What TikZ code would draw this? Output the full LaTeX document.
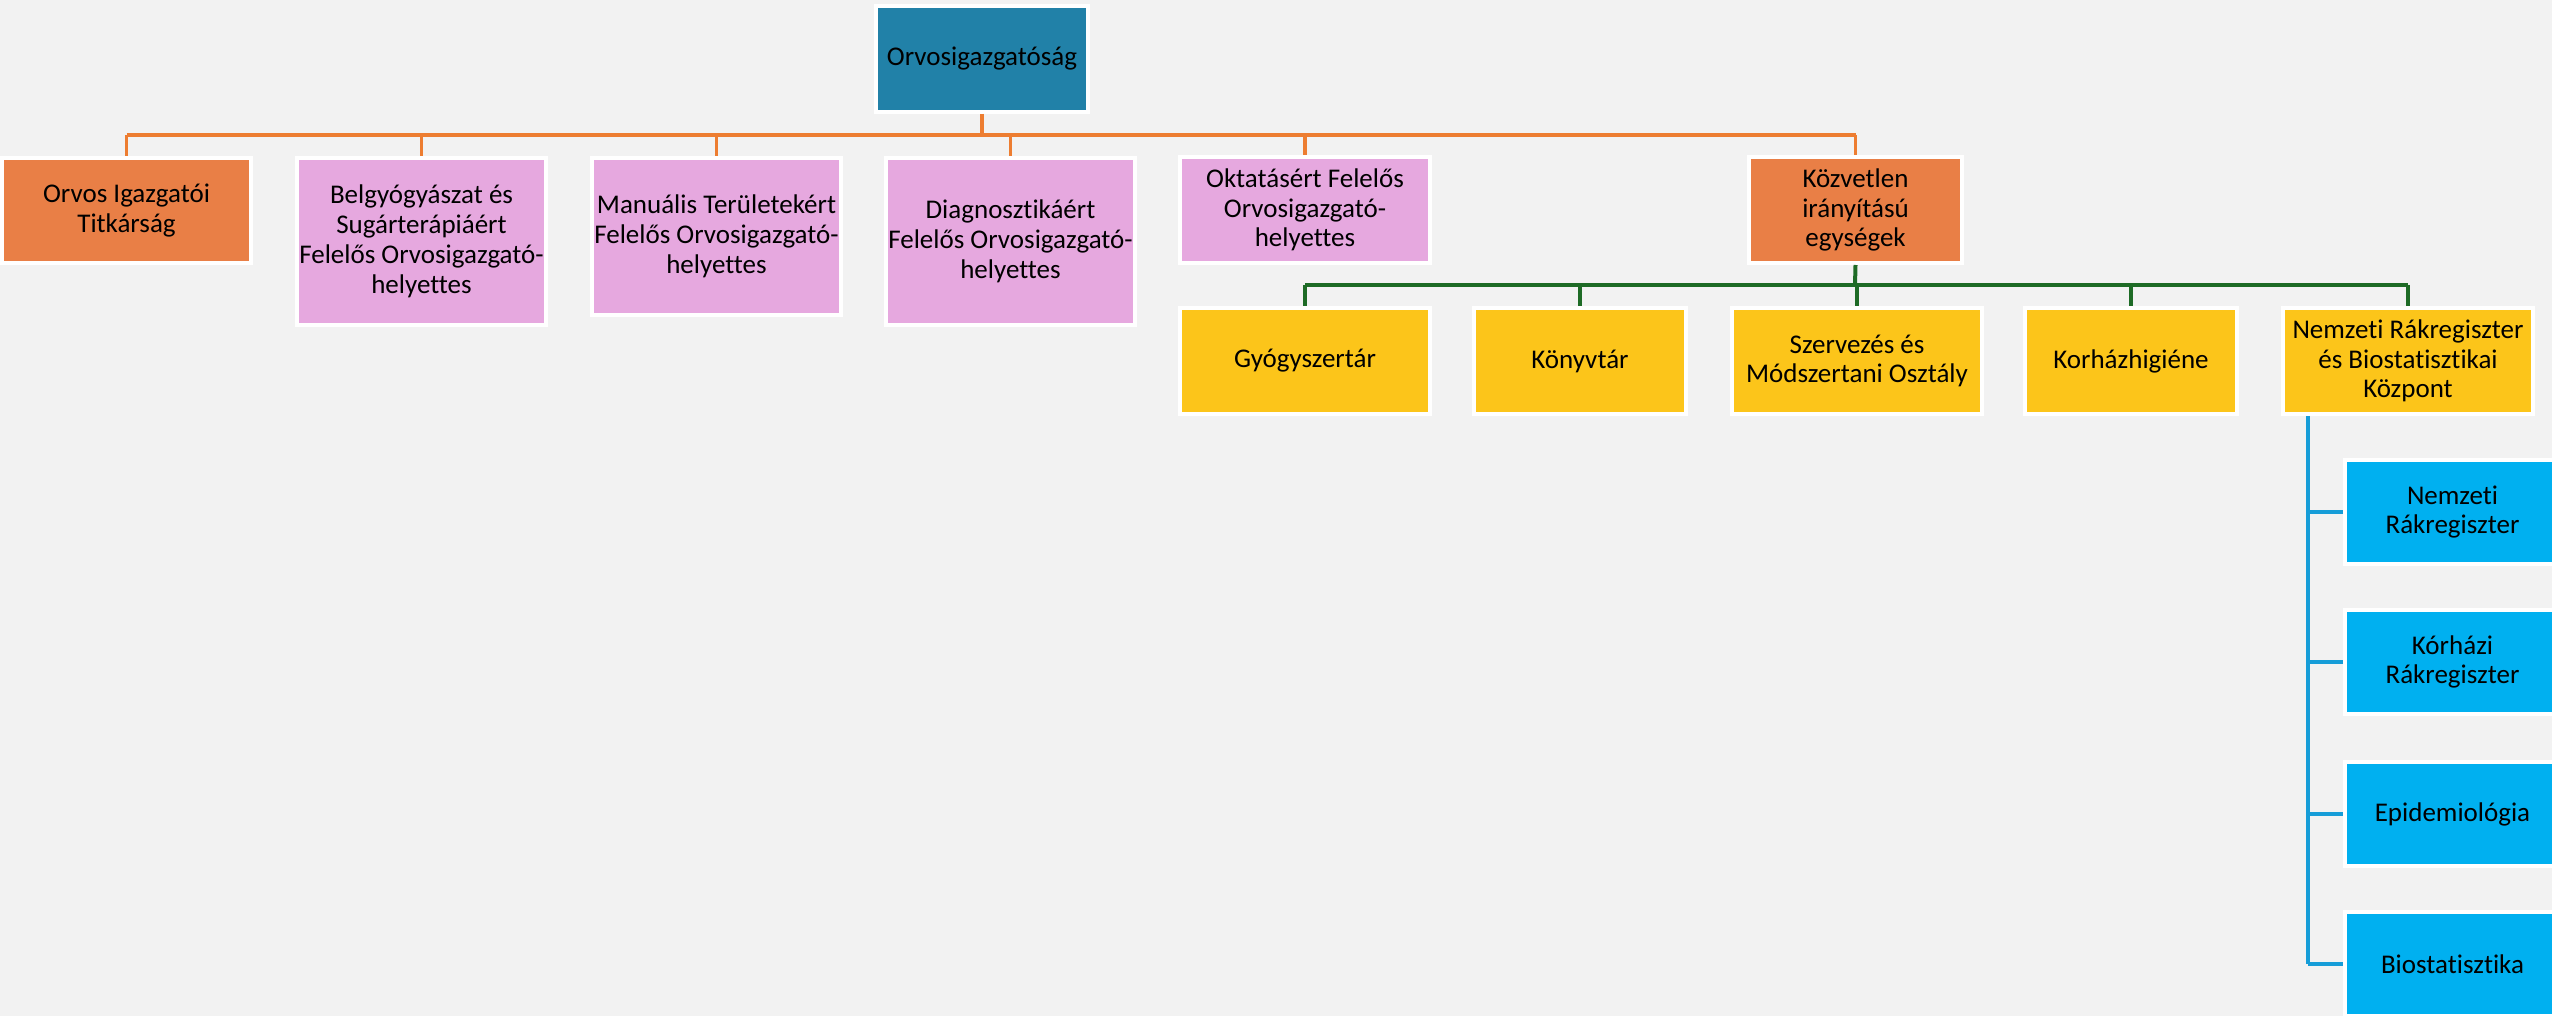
\documentclass[tikz,border=0pt]{standalone}
\usepackage{fontspec}
\setmainfont{Carlito}[Ligatures=CommonOff]
\definecolor{bg}{HTML}{F2F2F2}
\definecolor{topc}{HTML}{2181A8}
\definecolor{orc}{HTML}{E97F46}
\definecolor{pkc}{HTML}{E6A8DF}
\definecolor{ylc}{HTML}{FCC51A}
\definecolor{blc}{HTML}{00B0F0}
\definecolor{oline}{HTML}{ED7D31}
\definecolor{gline}{HTML}{1E6B26}
\definecolor{bline}{HTML}{169DD8}
\tikzset{
  box/.style={draw=white, line width=4pt, inner sep=0pt, align=center, text=black,
    font=\fontsize{27}{29.8}\selectfont},
  topbox/.style={box, fill=topc},
  orbox/.style={box, fill=orc},
  pkbox/.style={box, fill=pkc},
  ylbox/.style={box, fill=ylc},
  blbox/.style={box, fill=blc},
  oconn/.style={draw=oline, line width=3.5pt},
  gconn/.style={draw=gline, line width=4pt},
  bconn/.style={draw=bline, line width=4pt},
}
\begin{document}
\begin{tikzpicture}[x=1pt,y=-1pt]
\fill[bg] (0,0) rectangle (2552,1016);
\useasboundingbox (0,0) rectangle (2552,1016);

% coordinates of bus lines
\coordinate (ob) at (982,135);
\coordinate (gb) at (1855,285);

% nodes
\node[topbox, minimum width=212pt, minimum height=106pt] (top) at (982,59) {Orvosigazgatóság};

\node[orbox, minimum width=249pt, minimum height=105pt] (titk) at (126.5,210.5) {Orvos Igazgatói\\Titkárság};
\node[pkbox, minimum width=249pt, minimum height=167pt] (belg) at (421.5,241.5) {Belgyógyászat és\\Sugárterápiáért\\Felelős Orvosigazgató-\\helyettes};
\node[pkbox, minimum width=249pt, minimum height=157pt] (manu) at (716.5,236.5) {Manuális Területekért\\Felelős Orvosigazgató-\\helyettes};
\node[pkbox, minimum width=249pt, minimum height=167pt] (diag) at (1010.5,241.5) {Diagnosztikáért\\Felelős Orvosigazgató-\\helyettes};
\node[pkbox, minimum width=250pt, minimum height=106pt] (okt) at (1305,210) {Oktatásért Felelős\\Orvosigazgató-\\helyettes};
\node[orbox, minimum width=213pt, minimum height=106pt] (kozv) at (1855.5,210) {Közvetlen\\irányítású\\egységek};

\node[ylbox, minimum width=250pt, minimum height=106pt] (gyogy) at (1305,361) {Gyógyszertár};
\node[ylbox, minimum width=212pt, minimum height=106pt] (konyv) at (1580,361) {Könyvtár};
\node[ylbox, minimum width=250pt, minimum height=106pt] (szerv) at (1857,361) {Szervezés és\\Módszertani Osztály};
\node[ylbox, minimum width=212pt, minimum height=106pt] (korh) at (2131,361) {Korházhigiéne};
\node[ylbox, minimum width=250pt, minimum height=106pt] (nrbk) at (2408,361) {Nemzeti Rákregiszter\\és Biostatisztikai\\Központ};

\node[blbox, minimum width=215pt, minimum height=104pt] (nr) at (2452.5,512) {Nemzeti\\Rákregiszter};
\node[blbox, minimum width=215pt, minimum height=104pt] (kr) at (2452.5,662) {Kórházi\\Rákregiszter};
\node[blbox, minimum width=215pt, minimum height=104pt] (epi) at (2452.5,814) {Epidemiológia};
\node[blbox, minimum width=215pt, minimum height=104pt] (bio) at (2452.5,964) {Biostatisztika};

% orange connectors
\draw[oconn] (top.south) -- (ob);
\draw[oconn] (ob -| titk.north) -- (ob -| kozv.north);
\foreach \n in {titk,belg,manu,diag,okt,kozv}{
  \draw[oconn] (ob -| \n.north) -- (\n.north);
}
% green connectors
\draw[gconn] (kozv.south) -- (gb);
\draw[gconn] (gb -| gyogy.north) -- (gb -| nrbk.north);
\foreach \n in {gyogy,konyv,szerv,korh,nrbk}{
  \draw[gconn] (gb -| \n.north) -- (\n.north);
}
% blue connectors
\coordinate (bt) at ([xshift=27pt]nrbk.south west);
\draw[bconn] (bt) -- (bt |- bio.west);
\foreach \n in {nr,kr,epi,bio}{
  \draw[bconn] (bt |- \n.west) -- (\n.west);
}
\end{tikzpicture}
\end{document}
